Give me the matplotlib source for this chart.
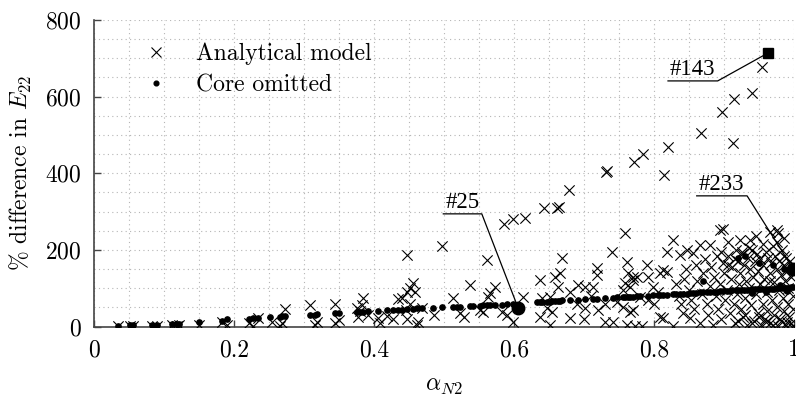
import matplotlib
matplotlib.use("Agg")
import matplotlib.pyplot as plt
from matplotlib.ticker import MultipleLocator
from matplotlib.lines import Line2D

plt.rcParams['font.family'] = 'cmr10'
plt.rcParams['mathtext.fontset'] = 'cm'
plt.rcParams['axes.unicode_minus'] = False
plt.rcParams['axes.formatter.use_mathtext'] = True

# ---------------- data ----------------
analytical_x = [
    0.034, 0.052, 0.056, 0.083, 0.090, 0.111, 0.118, 0.122, 0.150, 0.183, 0.190, 0.221, 0.227, 0.234,
    0.254, 0.266, 0.269, 0.273, 0.309, 0.316, 0.319, 0.344, 0.344, 0.350, 0.376, 0.377, 0.383, 0.384,
    0.380, 0.391, 0.406, 0.409, 0.419, 0.427, 0.434, 0.440,
    0.447, 0.447, 0.451, 0.456, 0.459, 0.452, 0.445, 0.447, 0.461, 0.463, 0.468, 0.485, 0.497, 0.513,
    0.523, 0.528, 0.537, 0.551, 0.556, 0.561, 0.566, 0.563, 0.573, 0.583, 0.590, 0.599, 0.613,
    0.586, 0.599, 0.615, 0.643, 0.661, 0.664, 0.679, 0.731, 0.733, 0.771, 0.784, 0.814, 0.820, 0.867,
    0.897, 0.914, 0.913, 0.940, 0.954,
    0.637, 0.637, 0.640, 0.651, 0.647, 0.659, 0.666, 0.663, 0.669, 0.651, 0.654, 0.680, 0.691, 0.701,
    0.713, 0.719, 0.719, 0.701, 0.720, 0.730, 0.741, 0.740, 0.759, 0.761, 0.763, 0.770, 0.759, 0.766,
    0.756, 0.747, 0.756, 0.766, 0.761, 0.773, 0.770, 0.780, 0.770, 0.783, 0.776, 0.791, 0.799, 0.791,
    0.813, 0.809, 0.819, 0.819, 0.827, 0.837, 0.847, 0.827, 0.841, 0.851, 0.856, 0.866, 0.894, 0.906,
    0.923, 0.937, 0.966, 0.976, 0.977, 0.899, 0.880, 0.809, 0.813, 0.800, 0.805, 0.790, 0.730, 0.710,
    0.690, 0.680, 0.700,
    0.832, 0.835, 0.838, 0.843, 0.846, 0.850, 0.853, 0.857, 0.860, 0.862, 0.865, 0.868, 0.870, 0.873,
    0.875, 0.877, 0.880, 0.882, 0.884, 0.886, 0.888, 0.890, 0.892, 0.894, 0.896, 0.898, 0.900, 0.902,
    0.904, 0.906, 0.908, 0.910, 0.912, 0.914, 0.915, 0.917, 0.918, 0.920, 0.921, 0.923, 0.924, 0.926,
    0.927, 0.929, 0.930, 0.931, 0.933, 0.934, 0.936, 0.937, 0.939, 0.940, 0.941, 0.943, 0.944, 0.945,
    0.947, 0.948, 0.949, 0.951, 0.952, 0.953, 0.955, 0.956, 0.957, 0.959, 0.960, 0.961, 0.962, 0.963,
    0.965, 0.966, 0.967, 0.968, 0.970, 0.971, 0.972, 0.973, 0.975, 0.976, 0.977, 0.978, 0.979, 0.981,
    0.982, 0.983, 0.984, 0.985, 0.986, 0.987, 0.988, 0.989, 0.990, 0.991, 0.992, 0.993, 0.994, 0.995,
    0.996, 0.997, 0.998, 0.999, 0.999, 0.998, 0.975, 0.985, 0.955, 0.945, 0.935, 0.925, 0.915, 0.905,
    0.895, 0.965, 0.985, 0.990, 0.980, 0.970, 0.960, 0.950, 0.940, 0.930, 0.920,
]
analytical_y = [
    1, 1, 2, 1, 1, 5, 1, 4, 5, 12, 4, 8, 1, 22,
    12, 1, 10, 46, 55, 4, 12, 60, 10, 16, 48, 24, 56, 74,
    40, 30, 22, 10, 28, 20, 72, 75,
    186, 90, 100, 113, 90, 60, 42, 20, 4, 12, 48, 30, 210, 74,
    35, 25, 108, 43, 38, 173, 87, 77, 103, 38, 30, 12, 77,
    267, 280, 283, 309, 309, 312, 356, 403, 405, 429, 450, 395, 469, 505,
    560, 593, 479, 609, 677,
    121, 25, 74, 77, 48, 129, 140, 103, 178, 4, 38, 22, 108, 103,
    103, 152, 134, 48, 43, 12, 12, 195, 243, 168, 140, 129, 113, 103,
    95, 64, 51, 38, 4, 1, 121, 77, 43, 1, 130, 130, 103, 69,
    22, 140, 142, 195, 226, 186, 199, 1, 35, 22, 191, 213, 252, 221,
    226, 226, 246, 252, 243, 254, 213, 25, 147, 60, 90, 160, 60, 80,
    60, 90, 20,
    110, 80, 60, 125, 150, 95, 70, 45, 160, 120, 10, 85, 140, 175,
    60, 30, 105, 155, 5, 130, 80, 185, 45, 110, 20, 165, 140, 70,
    95, 185, 35, 125, 155, 60, 10, 200, 85, 170, 110, 140, 45, 190,
    25, 160, 75, 120, 5, 180, 100, 150, 55, 200, 130, 15, 170, 85,
    190, 35, 145, 110, 175, 3, 60, 160, 125, 20, 195, 90, 40, 180,
    140, 8, 165, 70, 210, 115, 30, 185, 150, 50, 2, 170, 95, 135,
    15, 200, 75, 160, 40, 120, 180, 5, 145, 60, 100, 25, 170, 130,
    10, 155, 80, 1, 140, 45, 220, 230, 215, 235, 205, 195, 175, 160,
    195, 120, 185, 12, 20, 5, 12, 25, 8, 30, 15,
]

core_x = [
    0.034, 0.052, 0.056, 0.083, 0.090, 0.111, 0.118, 0.122, 0.150, 0.183, 0.190, 0.221, 0.227, 0.234,
    0.251, 0.266, 0.269, 0.273, 0.309, 0.316, 0.319, 0.344, 0.350, 0.376, 0.380, 0.384, 0.391, 0.406,
    0.419, 0.427, 0.434, 0.440, 0.447, 0.456, 0.461, 0.468, 0.484, 0.497, 0.513, 0.519, 0.523, 0.537,
    0.541, 0.551, 0.556, 0.561, 0.566, 0.573, 0.583, 0.590, 0.599,
    0.633, 0.637, 0.640, 0.647, 0.651, 0.654, 0.659, 0.663, 0.666, 0.669, 0.680, 0.691, 0.701, 0.713,
    0.719, 0.730, 0.741, 0.747, 0.756, 0.759, 0.763, 0.766, 0.770, 0.776, 0.780, 0.791, 0.799, 0.805,
    0.809, 0.813, 0.819, 0.827, 0.832, 0.837, 0.841, 0.847, 0.851, 0.856, 0.860, 0.866, 0.870, 0.875,
    0.880, 0.886, 0.890, 0.894, 0.899, 0.904, 0.908, 0.912, 0.917, 0.920, 0.924, 0.929, 0.933, 0.937,
    0.940, 0.944, 0.948, 0.952, 0.956, 0.960, 0.964, 0.968, 0.972, 0.976, 0.980, 0.984, 0.988, 0.992,
    0.996, 0.999,
    0.920, 0.930, 0.950, 0.970, 0.985, 0.870, 0.960, 0.990, 0.940, 0.980,
]
core_y = [
    2, 3, 3, 4, 4, 6, 6, 7, 13, 15, 20, 20, 21, 22,
    25, 26, 28, 27, 30, 31, 32, 34, 35, 37, 38, 38, 40, 40,
    42, 43, 43, 44, 45, 46, 47, 47, 48, 51, 51, 51, 52, 53,
    54, 54, 55, 56, 56, 57, 57, 58, 58,
    63, 63, 64, 65, 65, 66, 66, 67, 67, 68, 69, 70, 71, 72,
    73, 74, 75, 76, 76, 77, 77, 78, 78, 79, 79, 80, 81, 82,
    82, 83, 83, 84, 85, 85, 86, 86, 87, 88, 88, 89, 89, 90,
    90, 91, 91, 92, 92, 93, 93, 94, 94, 95, 95, 96, 96, 96,
    97, 97, 97, 98, 98, 98, 99, 99, 99, 100, 100, 100, 101, 101,
    102, 102,
    178, 185, 165, 160, 150, 120, 90, 92, 88, 108,
]

# highlighted cases: label, x, y, underline start x, underline end x, underline y
highlight_labels = ['#143', '#25', '#233']
highlight_x = [0.963, 0.606, 0.999]
highlight_y = [714, 48, 150]
label_x0 = [0.820, 0.499, 0.861]
label_x1 = [0.891, 0.554, 0.933]
label_y = [641, 294, 341]
highlight_markers = ['s', 'o', 'o']
highlight_sizes = [7, 9, 9]

x_ticks = [0, 0.2, 0.4, 0.6, 0.8, 1]
x_ticklabels = ['0', '0.2', '0.4', '0.6', '0.8', '1']
y_ticks = [0, 200, 400, 600, 800]

# ---------------- figure ----------------
fig = plt.figure(figsize=(7.96, 4.01), dpi=100)
ax = fig.add_axes([94 / 796, (401 - 326.5) / 401, 700 / 796, 306.5 / 401])

ax.set_xlim(0, 1)
ax.set_ylim(0, 800)
ax.xaxis.set_minor_locator(MultipleLocator(0.05))
ax.yaxis.set_minor_locator(MultipleLocator(50))
ax.grid(True, which='both', linestyle=(0, (1, 3)), color='#b5b5b5', linewidth=0.8)
ax.set_axisbelow(True)

ax.scatter(analytical_x, analytical_y, marker='x', s=55, color='black', linewidths=0.8, zorder=3)
ax.plot(core_x, core_y, linestyle='none', marker='o', markersize=3.8, color='black', zorder=4)

for lab, hx, hy, x0, x1, ly, mk, ms in zip(highlight_labels, highlight_x, highlight_y,
                                          label_x0, label_x1, label_y, highlight_markers, highlight_sizes):
    ax.plot([x0, x1, hx], [ly, ly, hy], color='black', linewidth=0.9, zorder=5)
    ax.plot([hx], [hy], marker=mk, markersize=ms, color='black', linestyle='none', zorder=6)
    ax.text(x0 + 0.003, ly + 3, lab, family='Liberation Serif', fontsize=16.5, ha='left', va='bottom', zorder=6)

ax.set_xticks(x_ticks)
ax.set_xticklabels(x_ticklabels)
ax.set_yticks(y_ticks)
ax.tick_params(which='major', direction='in', length=5, width=1.0, labelsize=17, color='#444444')
ax.tick_params(axis='x', pad=9)
ax.tick_params(axis='y', pad=9)
ax.tick_params(which='minor', length=0)

for s in ['top', 'right']:
    ax.spines[s].set_visible(False)
for s in ['left', 'bottom']:
    ax.spines[s].set_color('#444444')
    ax.spines[s].set_linewidth(1.2)

ax.set_xlabel(r'$\alpha_{N2}$', fontsize=17, labelpad=10)
ax.set_ylabel(r'$\%$ difference in $E_{22}$', fontsize=17, labelpad=8)

handles = [
    Line2D([], [], marker='x', linestyle='none', color='black', markersize=7, markeredgewidth=0.8),
    Line2D([], [], marker='o', linestyle='none', color='black', markersize=3.4),
]
ax.legend(handles, ['Analytical model', 'Core omitted'], loc='upper left',
          bbox_to_anchor=((132 - 94) / 700, 0.925), frameon=False, fontsize=17,
          borderaxespad=0, borderpad=0, handletextpad=0.7, labelspacing=0.38, handlelength=2.0)

fig.savefig('out.png', dpi=100)
